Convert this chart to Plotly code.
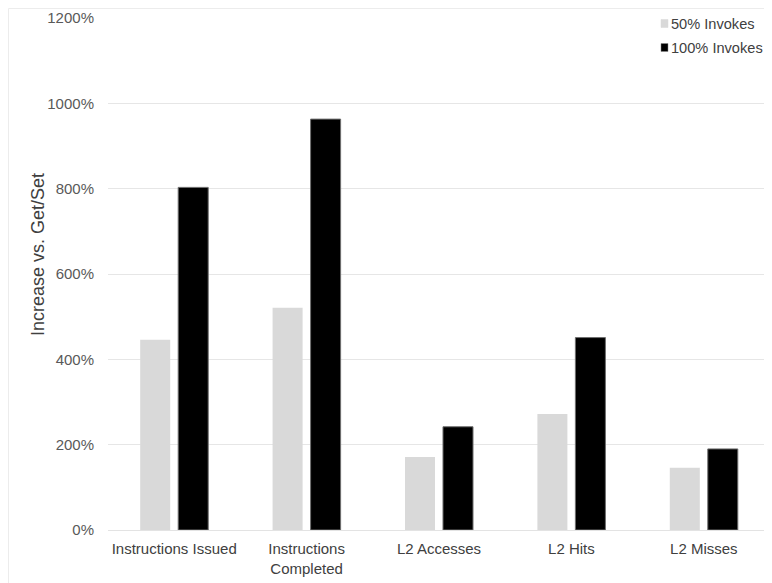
import plotly.graph_objects as go

categories = ["Instructions Issued", "Instructions<br>Completed", "L2 Accesses", "L2 Hits", "L2 Misses"]
series_names = ["50% Invokes", "100% Invokes"]
invokes_50 = [446, 521, 171, 272, 146]
invokes_100 = [803, 963, 242, 451, 190]
y_ticks = [0, 200, 400, 600, 800, 1000, 1200]
y_tick_labels = [f"{v}%" for v in y_ticks]
colors = ["#d9d9d9", "#000000"]

# page body adds an 8px offset, so the figure is sized to fit the remaining window
OFF = 8
W, H = 772 - OFF, 583 - OFF
ml, mr, mt, mb = 108 - OFF, 2, 18 - OFF, 53
pw = W - ml - mr
ph = H - mt - mb

def px_x(sx):
    return (sx - OFF - ml) / pw

def px_y(sy):
    return (H - mb - (sy - OFF)) / ph

fig = go.Figure()
fig.add_trace(go.Bar(name=series_names[0], x=categories, y=invokes_50,
                     marker=dict(color=colors[0], line=dict(width=0))))
fig.add_trace(go.Bar(name=series_names[1], x=categories, y=invokes_100,
                     marker=dict(color=colors[1], line=dict(color="#6e6e6e", width=1))))

font = "Liberation Sans, Arial, sans-serif"

# hand-built legend (compact swatch next to text, as in the reference)
annotations = [dict(text="Increase vs. Get/Set", textangle=-90, xref="paper", yref="paper",
                    x=px_x(38), y=px_y(255), xanchor="center", yanchor="middle",
                    showarrow=False, font=dict(size=18, color="#404040"))]
shapes = []
for i, (name, col) in enumerate(zip(series_names, colors)):
    cyy = 23.5 + 24 * i
    annotations.append(dict(text=name, xref="paper", yref="paper", x=px_x(670), y=px_y(cyy),
                            xanchor="left", yanchor="middle", showarrow=False, borderpad=0,
                            font=dict(size=14.6, color="#404040")))
    shapes.append(dict(type="rect", xref="paper", yref="paper",
                       x0=px_x(661), x1=px_x(668), y0=px_y(cyy + 4), y1=px_y(cyy - 4),
                       fillcolor=col, line=dict(color="#888888" if i else col, width=0.5)))

shapes += [dict(type="line", xref="paper", yref="paper",
                x0=px_x(8.5), x1=px_x(8.5), y0=px_y(600), y1=px_y(8.5),
                line=dict(color="#ececec", width=1), layer="below"),
           dict(type="line", xref="paper", yref="paper",
                x0=px_x(8.5), x1=px_x(800), y0=px_y(8.5), y1=px_y(8.5),
                line=dict(color="#ececec", width=1), layer="below")]

fig.update_layout(
    width=W, height=H,
    margin=dict(l=ml, r=mr, t=mt, b=mb),
    paper_bgcolor="white", plot_bgcolor="white",
    barmode="group", bargap=0.426, bargroupgap=0.21,
    font=dict(family=font, size=15, color="#595959"),
    showlegend=False,
    xaxis=dict(showgrid=False, showline=True, linecolor="#e3e3e3", linewidth=1,
               ticks="", tickfont=dict(size=15, color="#404040"), ticklabelstandoff=5),
    yaxis=dict(range=[0, 1200], tickvals=y_ticks, ticktext=y_tick_labels,
               showgrid=True, gridcolor="#e6e6e6", gridwidth=1, zeroline=False,
               tickfont=dict(size=15, color="#595959"), ticklabelstandoff=13),
    annotations=annotations,
    shapes=shapes,
)

fig.write_html("out.html")
